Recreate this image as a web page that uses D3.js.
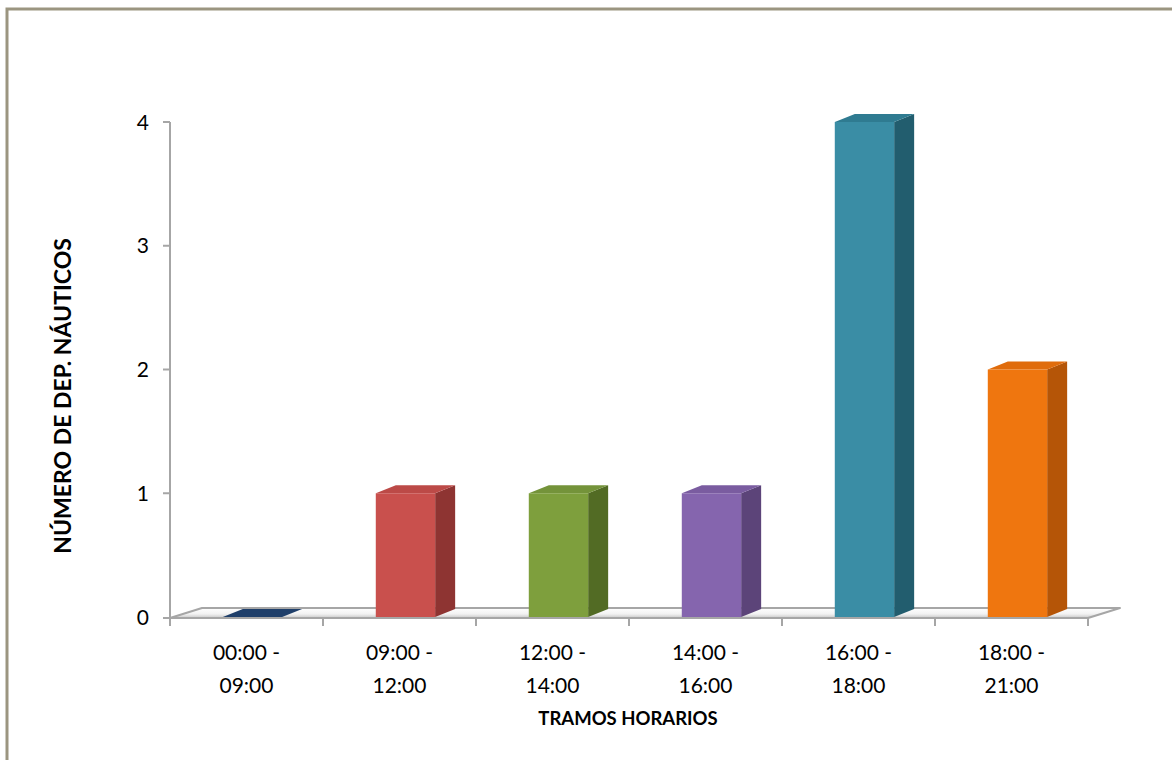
<!DOCTYPE html>
<html><head><meta charset="utf-8">
<script src="https://cdn.jsdelivr.net/npm/d3@7/dist/d3.min.js"></script>
<style>body{margin:0;background:#fff}svg{display:block}</style>
</head><body>
<svg id="c" width="1172" height="760"></svg>
<script>
const categories = [["00:00 -","09:00"],["09:00 -","12:00"],["12:00 -","14:00"],["14:00 -","16:00"],["16:00 -","18:00"],["18:00 -","21:00"]];
const values = [0, 1, 1, 1, 4, 2];
const yTicks = [0, 1, 2, 3, 4];
const frontColors = ["#1F497D", "#C9504D", "#7E9F3D", "#8565AE", "#3A8DA5", "#EF760F"];
const sideColors  = ["#16365C", "#8E3432", "#526B24", "#5C4479", "#225D6E", "#B55507"];
const topColors   = ["#1F3F6A", "#BC4A47", "#74933A", "#7A5CA0", "#2F7B91", "#E06C0C"];
const xTitle = "TRAMOS HORARIOS";
const yTitle = "NÚMERO DE DEP. NÁUTICOS";

const svg = d3.select("#c");
const font = "Lato, 'Open Sans', sans-serif";

// outer border
svg.append("rect").attr("x", 7).attr("y", 9).attr("width", 1200).attr("height", 800)
  .attr("fill", "none").attr("stroke", "#9B9580").attr("stroke-width", 3);

const x = d3.scaleBand().domain(d3.range(categories.length)).range([170, 1088]).padding(0);
const y = d3.scaleLinear().domain([0, 4]).range([617, 122]);
const bw = x.bandwidth();
const y0 = y(0);
const fdx = 32, fdy = 10; // floor depth
const dx = 20, dy = 8;    // bar depth

// floor
const defs = svg.append("defs");
const fg = defs.append("linearGradient").attr("id", "floorg").attr("x1", 0).attr("y1", 0).attr("x2", 0).attr("y2", 1);
fg.append("stop").attr("offset", "0%").attr("stop-color", "#ffffff");
fg.append("stop").attr("offset", "60%").attr("stop-color", "#f2f2f2");
fg.append("stop").attr("offset", "100%").attr("stop-color", "#c8c8c8");
const r0 = x.range()[0], r1 = x.range()[1];
svg.append("path")
  .attr("d", `M${r0},${y0+1} L${r1},${y0+1} L${r1+fdx},${y0+1-fdy} L${r0+fdx},${y0+1-fdy} Z`)
  .attr("fill", "url(#floorg)").attr("stroke", "#A6A6A6").attr("stroke-width", 2).attr("stroke-linejoin", "round");

// y axis line + ticks
svg.append("line").attr("x1", r0).attr("x2", r0).attr("y1", y(4)).attr("y2", y0 + 8)
  .attr("stroke", "#A6A6A6").attr("stroke-width", 2);
svg.selectAll(".yt").data(yTicks).enter().append("line")
  .attr("x1", r0 - 7).attr("x2", r0).attr("y1", d => y(d) + (d === 0 ? 1 : 0)).attr("y2", d => y(d) + (d === 0 ? 1 : 0))
  .attr("stroke", "#A6A6A6").attr("stroke-width", 2);
svg.selectAll(".yl").data(yTicks).enter().append("text")
  .attr("x", 149).attr("y", d => y(d)).attr("dy", "0.36em").attr("text-anchor", "end")
  .attr("font-family", font).attr("font-size", 21).attr("fill", "#000").text(d => d);

// x ticks
svg.selectAll(".xt").data(d3.range(categories.length + 1)).enter().append("line")
  .attr("x1", i => r0 + i * bw).attr("x2", i => r0 + i * bw).attr("y1", y0 + 1).attr("y2", y0 + 9)
  .attr("stroke", "#A6A6A6").attr("stroke-width", 2);

// bars
const fx = i => x(i) + bw * 0.345;
const fw = bw * 0.388;
const g = svg.selectAll(".bar").data(values).enter().append("g");
g.append("path").attr("d", (v, i) => {
  const xl = fx(i) + fw, yt = y(v);
  return `M${xl},${y0} L${xl},${yt} L${xl+dx},${yt-dy} L${xl+dx},${y0-dy} Z`;
}).attr("fill", (v, i) => sideColors[i]);
g.append("path").attr("d", (v, i) => {
  const xl = fx(i), yt = y(v);
  return `M${xl},${yt} L${xl+fw},${yt} L${xl+fw+dx},${yt-dy} L${xl+dx},${yt-dy} Z`;
}).attr("fill", (v, i) => topColors[i]);
g.append("rect").attr("x", (v, i) => fx(i)).attr("y", v => y(v)).attr("width", fw)
  .attr("height", v => y0 - y(v)).attr("fill", (v, i) => frontColors[i]);

// category labels
const cl = svg.selectAll(".cl").data(categories).enter().append("text")
  .attr("text-anchor", "middle").attr("font-family", font).attr("font-size", 21).attr("fill", "#000");
cl.append("tspan").attr("x", (d, i) => x(i) + bw / 2).attr("y", 660).text(d => d[0]);
cl.append("tspan").attr("x", (d, i) => x(i) + bw / 2).attr("y", 693).text(d => d[1]);

// titles
svg.append("text").attr("x", 628).attr("y", 725).attr("text-anchor", "middle")
  .attr("font-family", font).attr("font-size", 18.5).attr("font-weight", "bold").text(xTitle);
svg.append("text").attr("transform", "translate(71,396) rotate(-90)").attr("text-anchor", "middle")
  .attr("font-family", font).attr("font-size", 23).attr("font-weight", "bold").text(yTitle);
</script>
</body></html>
